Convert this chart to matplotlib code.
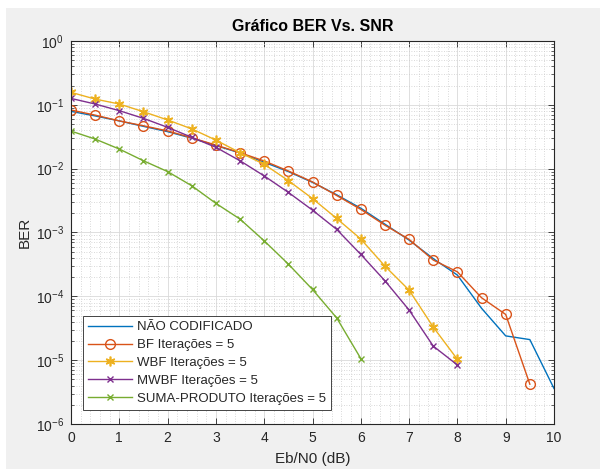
import numpy as np
import matplotlib
matplotlib.use("Agg")
import matplotlib.pyplot as plt
from matplotlib.patches import Rectangle
from matplotlib.ticker import LogLocator, MultipleLocator, NullFormatter

plt.rcParams['font.family'] = ['Liberation Sans', 'DejaVu Sans']

# Eb/N0 (dB) for each curve
snr_unc = np.arange(0, 10.5, 0.5)
snr_bf = np.arange(0, 10.0, 0.5)
snr_wbf = np.arange(0, 8.5, 0.5)
snr_spa = np.arange(0, 6.5, 0.5)

ber_unc = [0.079, 0.067, 0.056, 0.046, 0.038, 0.030, 0.023, 0.0176, 0.0126,
           0.0090, 0.0061, 0.0039, 0.0024, 0.00135, 0.00076, 0.00039, 0.000215,
           6.5e-5, 2.4e-5, 2.1e-5, 3.6e-6]
ber_bf = [0.083, 0.069, 0.056, 0.047, 0.039, 0.0305, 0.0234, 0.0178, 0.0132,
          0.0092, 0.0062, 0.0038, 0.0023, 0.0013, 0.00078, 0.00037, 0.000242,
          9.5e-5, 5.2e-5, 4.2e-6]
ber_wbf = [0.157, 0.123, 0.103, 0.078, 0.058, 0.042, 0.028, 0.0178, 0.0117,
           0.0065, 0.0034, 0.00166, 0.00079, 0.000297, 0.000125, 3.3e-5, 1.03e-5]
ber_mwbf = [0.126, 0.103, 0.081, 0.0614, 0.0444, 0.031, 0.0216, 0.0133, 0.0077,
            0.00425, 0.00224, 0.00112, 0.000454, 0.000175, 6.1e-5, 1.66e-5, 8.4e-6]
ber_spa = [0.0388, 0.0291, 0.0203, 0.0133, 0.0090, 0.0054, 0.00286, 0.00162,
           0.00074, 0.00032, 0.000128, 4.6e-5, 1.06e-5]

labels = ['NÃO CODIFICADO', 'BF Iterações = 5', 'WBF Iterações = 5',
          'MWBF Iterações = 5', 'SUMA-PRODUTO Iterações = 5']

dark = '#262626'
asterisk = (6, 2, 0)

fig = plt.figure(figsize=(6.0, 4.69), dpi=100, facecolor='white')
# MATLAB-like grey figure area (white strip on left/top edge)
fig.patches.append(Rectangle((6 / 600, 0), 1, 1 - 8 / 469, transform=fig.transFigure,
                             facecolor='#f0f0f0', edgecolor='none', zorder=-10))

ax = fig.add_axes([71 / 600, 1 - 424 / 469, 483 / 600, 383 / 469])
ax.set_facecolor('white')

ax.semilogy(snr_unc, ber_unc, color='#0072BD', lw=1.0, label=labels[0])
ax.semilogy(snr_bf, ber_bf, color='#D95319', lw=1.0, marker='o', ms=7,
            mfc='none', mew=1.0, label=labels[1])
ax.semilogy(snr_wbf, ber_wbf, color='#EDB120', lw=1.0, marker=asterisk, ms=7,
            mew=1.2, label=labels[2])
ax.semilogy(snr_wbf, ber_mwbf, color='#7E2F8E', lw=1.0, marker='x', ms=5,
            mew=1.0, label=labels[3])
ax.semilogy(snr_spa, ber_spa, color='#77AC30', lw=1.0, marker='x', ms=5,
            mew=1.0, label=labels[4])

ax.set_xlim(0, 10)
ax.set_ylim(1e-6, 1)
ax.xaxis.set_major_locator(MultipleLocator(1))
ax.xaxis.set_minor_locator(MultipleLocator(0.2))
ax.yaxis.set_major_locator(LogLocator(base=10, numticks=10))
ax.yaxis.set_minor_locator(LogLocator(base=10, subs=np.arange(2, 10), numticks=20))
ax.yaxis.set_minor_formatter(NullFormatter())

ax.grid(which='major', color='#d9d9d9', lw=0.6)
ax.grid(which='minor', color='#cccccc', lw=0.6, linestyle=(0, (1, 2)))
ax.set_axisbelow(True)

ax.tick_params(which='both', direction='in', top=True, right=True,
               colors=dark, labelsize=10, pad=5)
ax.tick_params(which='major', length=4, width=0.6)
ax.tick_params(axis='y', which='minor', length=2.5, width=0.5)
ax.tick_params(axis='x', which='minor', length=0)
for s in ax.spines.values():
    s.set_color(dark)
    s.set_linewidth(0.8)

ax.set_title('Gráfico BER Vs. SNR', fontsize=11.5, fontweight='bold',
             color='black', pad=7)
ax.set_xlabel('Eb/N0 (dB)', fontsize=11, color=dark, labelpad=5)
ax.set_ylabel('BER', fontsize=11, color=dark, labelpad=3)

leg = ax.legend(loc='lower left', bbox_to_anchor=(0.025, 0.037), borderaxespad=0,
                fontsize=9.5, handlelength=3.3, labelspacing=0.42, fancybox=False,
                framealpha=1, edgecolor=dark, borderpad=0.4, handletextpad=0.4)
leg.get_frame().set_linewidth(0.6)
for t in leg.get_texts():
    t.set_color(dark)

fig.savefig('out.png', dpi=100, facecolor=fig.get_facecolor())
